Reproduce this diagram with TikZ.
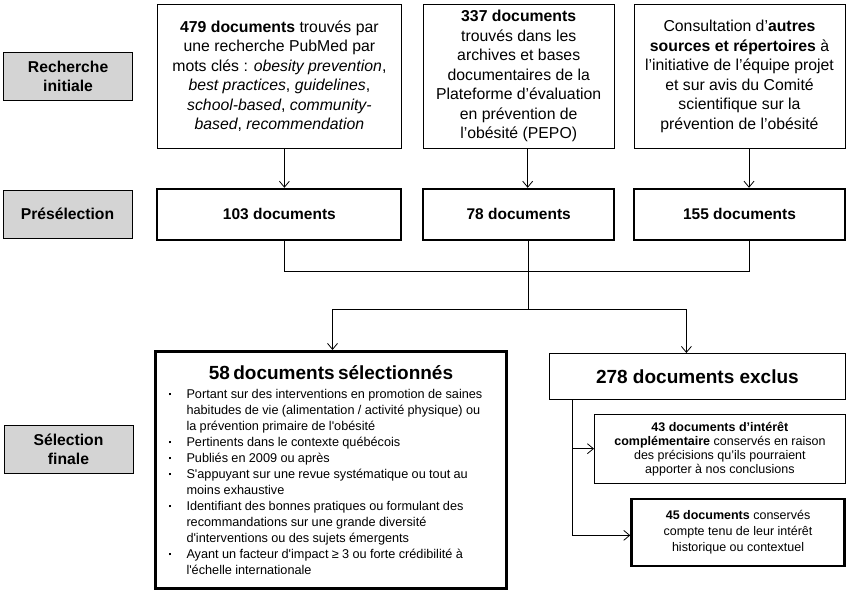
\documentclass[tikz,border=0pt]{standalone}
\usepackage{fontspec}
\setmainfont{Liberation Sans}
\usetikzlibrary{positioning,arrows.meta}

% puce de la liste des critères
\newcommand\puce{\noindent\hangindent=23pt\hangafter=1\makebox[23pt][l]{\hspace{5pt}\rule[3pt]{2.3pt}{2.3pt}}}

\begin{document}
\begin{tikzpicture}[
    x=1pt, y=1pt,
    etape/.style={draw, fill=black!17, line width=0.8pt, minimum width=129pt, minimum height=48pt, align=center, inner sep=2pt, font=\fontsize{15.7}{19}\selectfont\bfseries},
    srcbox/.style={draw, line width=0.8pt, minimum height=144pt, align=center, inner sep=2pt, font=\fontsize{15.8}{19.5}\selectfont},
    prebox/.style={draw, line width=2pt, minimum height=51pt, align=center, font=\fontsize{15.5}{18}\selectfont\bfseries},
    selbox/.style={draw, line width=3pt, minimum width=351pt, minimum height=237pt, text width=335pt, inner sep=8pt},
    exclbox/.style={draw, line width=0.8pt, align=center, inner sep=2pt},
    arr/.style={-{Straight Barb[length=6pt,width=10pt]}},
    lien/.style={line width=0.8pt}
]
\useasboundingbox (0,0) rectangle (849,-593);

% sources de la recherche initiale
\node[srcbox, minimum width=244pt, anchor=north west] (src1) at (157,-4) {\textbf{479 documents} trouvés par\\une recherche PubMed par\\mots clés : \textit{obesity prevention},\\\textit{best practices}, \textit{guidelines},\\\textit{school-based}, \textit{community-}\\\textit{based}, \textit{recommendation}};
\node[srcbox, minimum width=191pt, right=21pt of src1] (src2) {\textbf{337 documents}\\trouvés dans les\\archives et bases\\documentaires de la\\Plateforme d’évaluation\\en prévention de\\l’obésité (PEPO)};
\node[srcbox, minimum width=211pt, right=19pt of src2] (src3) {Consultation d’\textbf{autres}\\\textbf{sources et répertoires} à\\l’initiative de l’équipe projet\\et sur avis du Comité\\scientifique sur la\\prévention de l’obésité};

% présélection
\node[prebox, minimum width=244pt, below=39pt of src1] (pre1) {103 documents};
\node[prebox, minimum width=191pt, below=39pt of src2] (pre2) {78 documents};
\node[prebox, minimum width=211pt, below=39pt of src3] (pre3) {155 documents};

% étapes à gauche
\node[etape, left=24pt of src1] (lab1) {Recherche\\initiale};
\node[etape, left=24pt of pre1] (lab2) {Présélection};
\node[etape] (lab3) at (68.5,-449) {Sélection\\finale};

% sélection finale
\node[selbox, anchor=north west] (sel) at (154,-350) {%
{\centering\fontsize{19}{22}\selectfont\bfseries 58 documents sélectionnés\par}
\vspace{3pt}
\fontsize{12.7}{16}\selectfont\raggedright
\puce Portant sur des interventions en promotion de saines\newline habitudes de vie (alimentation / activité physique) ou\newline la prévention primaire de l\textquotesingle obésité\par
\puce Pertinents dans le contexte québécois\par
\puce Publiés en 2009 ou après\par
\puce S\textquotesingle appuyant sur une revue systématique ou tout au\newline moins exhaustive\par
\puce Identifiant des bonnes pratiques ou formulant des\newline recommandations sur une grande diversité\newline d\textquotesingle interventions ou des sujets émergents\par
\puce Ayant un facteur d\textquotesingle impact ≥ 3 ou forte crédibilité à\newline l\textquotesingle échelle internationale\par};

\node[exclbox, minimum width=296pt, minimum height=46pt, anchor=north west, font=\fontsize{19}{22}\selectfont\bfseries] (excl) at (549,-353) {278 documents exclus};
\node[exclbox, minimum width=251pt, minimum height=69pt, below=14pt of excl.south east, anchor=north east, font=\fontsize{12.5}{14}\selectfont] (comp) {\textbf{43 documents d’intérêt}\\\textbf{complémentaire} conservés en raison\\des précisions qu’ils pourraient\\apporter à nos conclusions};
\node[exclbox, line width=2.5pt, minimum width=213pt, minimum height=67pt, below=14pt of comp.south east, anchor=north east, font=\fontsize{12.5}{16}\selectfont] (hist) {\textbf{45 documents} conservés\\compte tenu de leur intérêt\\historique ou contextuel};

% connecteurs
\foreach \i/\dx in {1/5pt,2/9pt,3/9.5pt}
    \draw[lien, arr] ([xshift=\dx]src\i.south) -- ([xshift=\dx]pre\i.north);

\coordinate[below=31pt of pre2.south, xshift=9.5pt] (jonc1);
\coordinate[below=38pt of jonc1] (jonc2);
\draw[lien] ([xshift=5pt]pre1.south) |- (jonc1);
\draw[lien] ([xshift=9.5pt]pre3.south) |- (jonc1);
\draw[lien] ([xshift=9.5pt]pre2.south) -- (jonc2);
\draw[lien, arr] (jonc2) -| ([xshift=1.5pt]sel.north);
\draw[lien, arr] (jonc2) -| ([xshift=-11pt]excl.north);

\draw[lien, arr] ([xshift=23pt]excl.south west) |- (comp.west);
\draw[lien, arr] ([xshift=23pt]excl.south west) |- ([yshift=-3pt]hist.west);

\end{tikzpicture}
\end{document}
